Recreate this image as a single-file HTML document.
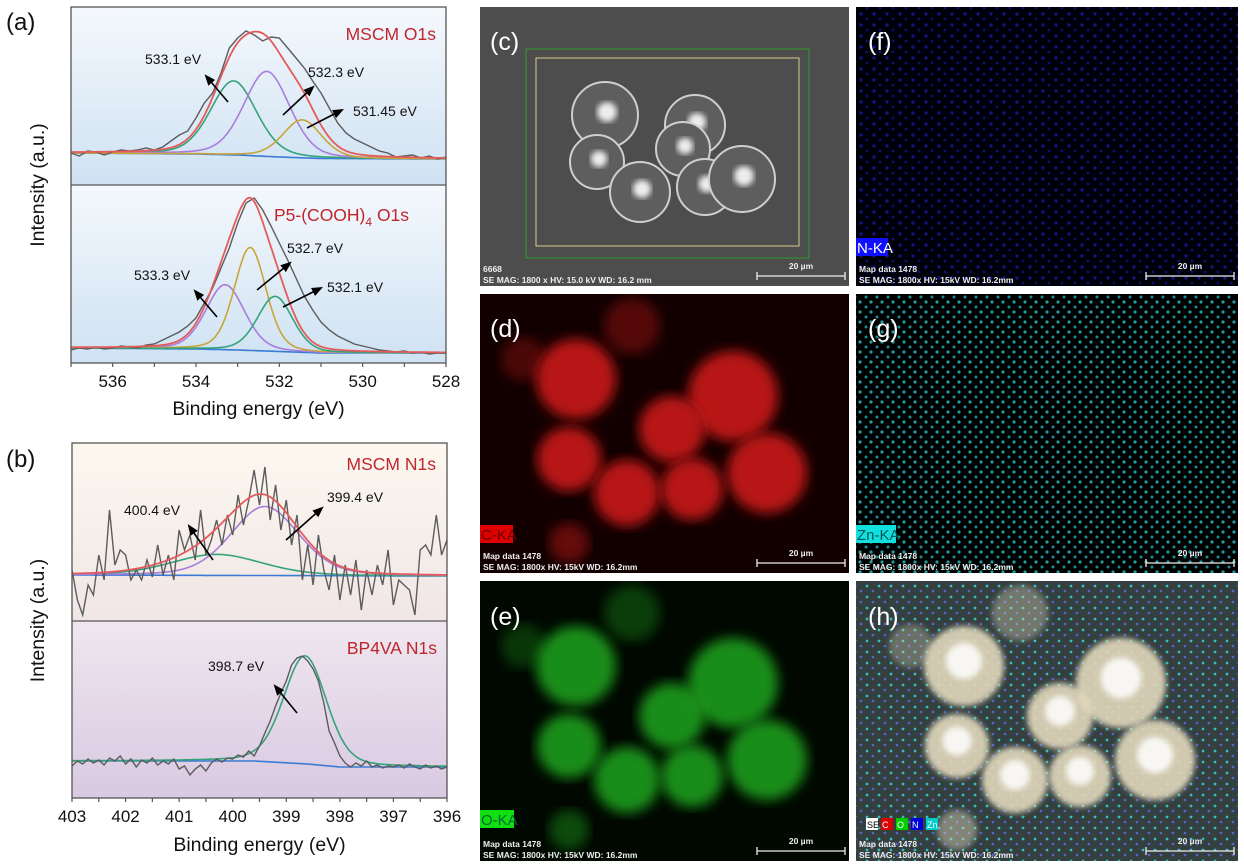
<!DOCTYPE html>
<html><head><meta charset="utf-8"><style>
html,body{margin:0;padding:0;background:#fff;}
svg{display:block;font-family:"Liberation Sans",Arial,sans-serif;}
</style></head><body>
<svg id="fig" width="1244" height="866" viewBox="0 0 1244 866" xmlns="http://www.w3.org/2000/svg">
<defs>
<linearGradient id="bgA" x1="0" y1="0" x2="0" y2="1"><stop offset="0" stop-color="#f4f8fc"/><stop offset="1" stop-color="#cfe2f3"/></linearGradient>
<linearGradient id="bgB1" x1="0" y1="0" x2="0" y2="1"><stop offset="0" stop-color="#fcf8ef"/><stop offset="1" stop-color="#f0e6e6"/></linearGradient>
<linearGradient id="bgB2" x1="0" y1="0" x2="0" y2="1"><stop offset="0" stop-color="#efe7ef"/><stop offset="1" stop-color="#d9c9e2"/></linearGradient>
<marker id="arr" viewBox="0 0 10 10" refX="8" refY="5" markerWidth="7" markerHeight="7" orient="auto"><path d="M0,1 L10,5 L0,9 z" fill="#000"/></marker>
<filter id="blur6"><feGaussianBlur stdDeviation="6"/></filter>
<filter id="blur3"><feGaussianBlur stdDeviation="3"/></filter>
<pattern id="dotsB" width="13" height="11" patternUnits="userSpaceOnUse"><circle cx="3" cy="3" r="1.7" fill="#2a2cff"/><circle cx="9" cy="8" r="1.4" fill="#2224e0"/></pattern>
<pattern id="dotsC" width="11" height="10" patternUnits="userSpaceOnUse"><circle cx="2" cy="2" r="1.6" fill="#2fe0e0"/><circle cx="8" cy="7" r="1.5" fill="#27c8d0"/></pattern>
<pattern id="dotsH" width="12" height="11" patternUnits="userSpaceOnUse"><circle cx="3" cy="3" r="1.4" fill="#3ccfcf"/><circle cx="9" cy="8" r="1.3" fill="#5a6ae8"/></pattern>
</defs>
<g id="charts"></g>
<g id="images"></g>
</svg>
<script>
// ===== data =====
const aStart = 537, aStep = -0.2;
const rawMSCMO = [0,-3,2,1,-2,1,3,2,3,5,3,6,12,18,22,35,50,60,80,105,115,122,118,112,116,115,105,95,85,72,60,45,30,20,14,10,6,2,0,-4,-3,-2,-5,-3,-6,-4];
const rawP5O = [-2,0,-1,1,-1,0,2,1,0,3,4,8,12,16,22,30,45,60,80,100,125,145,150,138,122,105,88,70,52,38,26,18,12,8,4,2,0,-2,-3,-4,-3,-5,-4,-6,-5,-5];
const bgMSCMO = [[537,0],[534,-1],[533,-2],[532,-4],[531,-5.5],[528,-6]];
const bgP5O = [[537,0],[534,-1],[533,-2],[532,-3.5],[531,-5],[528,-5]];
const pkMSCMO_centers = [533.1, 532.3, 531.45];
const pkMSCMO_heights = [74, 85, 38];
const pkMSCMO_fwhm = [1.3, 1.3, 1.1];
const pkP5O_centers = [533.3, 532.7, 532.1];
const pkP5O_heights = [65, 103, 55];
const pkP5O_fwhm = [1.1, 0.9, 1.0];
const bStart = 403, bStep = -0.1;
const rawMSCMN = [5,-25,-40,-10,-20,20,-5,65,10,25,20,-5,5,-5,15,-2,30,0,20,-5,45,25,40,15,65,20,35,55,30,60,40,80,50,75,105,70,108,55,90,45,75,30,60,-5,30,-10,40,5,-15,20,-25,10,-20,15,-35,5,-20,10,-10,25,-30,-5,-10,-15,-40,25,30,20,60,20,35];
const rawBP4VA = [-5,0,-3,2,-2,1,-4,3,0,5,-3,2,-6,1,-2,3,-4,0,-3,2,-8,-5,-14,-8,-4,-10,-2,2,-1,3,2,6,4,10,5,15,28,40,55,68,80,96,103,105,100,92,80,58,30,18,5,-2,-6,-2,-5,0,-6,-4,-7,-5,-6,-4,-7,-3,-6,-8,-4,-7,-5,-8,-6];
const bgMSCMN = [[403,0],[396,-1]];
const bgBP4VA = [[403,0],[399.6,0],[398.6,-3],[398,-6],[396,-6]];
const pkMSCMN_centers = [400.3, 399.4];
const pkMSCMN_heights = [21, 69];
const pkMSCMN_fwhm = [2.0, 1.5];
const pkBP4VA_centers = [398.65];
const pkBP4VA_heights = [108];
const pkBP4VA_fwhm = [0.95];
const ticksA = [536,534,532,530,528];
const ticksB = [403,402,401,400,399,398,397,396];

const NS = "http://www.w3.org/2000/svg";
function mk(tag, attrs, parent){const e=document.createElementNS(NS,tag);for(const k in attrs)e.setAttribute(k,attrs[k]);if(parent)parent.appendChild(e);return e;}
function pv(x,c,h,w){const d=(x-c)/w;const g=Math.exp(-4*Math.LN2*d*d);const l=1/(1+4*d*d);return h*(0.75*g+0.25*l);}
function bgAt(bg,x){
  for(let i=0;i<bg.length-1;i++){const a=bg[i],b=bg[i+1];if(x<=a[0]&&x>=b[0]){const t=(a[0]-x)/(a[0]-b[0]);return a[1]+t*(b[1]-a[1]);}}
  return bg[bg.length-1][1];}

const charts=document.getElementById('charts');

function panel(opt){
  const g=mk('g',{},charts);
  
  
  const xs=v=>opt.x0+(opt.eMax-v)/(opt.eMax-opt.eMin)*(opt.x1-opt.x0);
  const ys=v=>opt.base-v;
  const bgr=mk('rect',{x:opt.x0,y:opt.top,width:opt.x1-opt.x0,height:opt.bot-opt.top,fill:opt.fill},g);
  
  
  const n=opt.raw.length;
  const E=[];for(let i=0;i<n;i++)E.push(opt.start+i*opt.step);
  const F=[];for(let i=0;i<=300;i++)F.push(opt.eMax-(opt.eMax-opt.eMin)*i/300);
  const path=(pts)=>pts.map((p,i)=>(i?'L':'M')+p[0].toFixed(1)+','+p[1].toFixed(1)).join('');
  const bl=mk('path',{d:path(F.map(e=>[xs(e),ys(bgAt(opt.bg,e))])),fill:'none',stroke:'#3b7bd4','stroke-width':1.6},g);
  
  
  opt.centers.forEach((c,k)=>{
    const p=mk('path',{d:path(F.map(e=>[xs(e),ys(bgAt(opt.bg,e)+pv(e,c,opt.heights[k],opt.fwhm[k]))])),fill:'none',stroke:opt.colors[k],'stroke-width':1.6},g);
    
    
  });
  const r=mk('path',{d:path(E.map((e,i)=>[xs(e),ys(opt.raw[i])])),fill:'none',stroke:'#5c5c5c','stroke-width':1.4},g);
  
  
  if(opt.envelope){
    const s=mk('path',{d:path(F.map(e=>{let v=bgAt(opt.bg,e);opt.centers.forEach((c,k)=>v+=pv(e,c,opt.heights[k],opt.fwhm[k]));return [xs(e),ys(v)];})),fill:'none',stroke:'#e45b5b','stroke-width':1.8},g);
    
    
  }
}

panel({name:'mscm-o1s',x0:71,x1:446,eMax:537,eMin:528,top:7,bot:185,base:153,fill:'url(#bgA)',raw:rawMSCMO,start:aStart,step:aStep,bg:bgMSCMO,centers:pkMSCMO_centers,heights:pkMSCMO_heights,fwhm:pkMSCMO_fwhm,colors:['#35a37a','#a97ddb','#c9a43a'],envelope:true});
panel({name:'p5-cooh4-o1s',x0:71,x1:446,eMax:537,eMin:528,top:185,bot:363,base:348,fill:'url(#bgA)',raw:rawP5O,start:aStart,step:aStep,bg:bgP5O,centers:pkP5O_centers,heights:pkP5O_heights,fwhm:pkP5O_fwhm,colors:['#a97ddb','#c9a43a','#35a37a'],envelope:true});
panel({name:'mscm-n1s',x0:72,x1:447,eMax:403,eMin:396,top:443,bot:621,base:575,fill:'url(#bgB1)',raw:rawMSCMN,start:bStart,step:bStep,bg:bgMSCMN,centers:pkMSCMN_centers,heights:pkMSCMN_heights,fwhm:pkMSCMN_fwhm,colors:['#35a37a','#a97ddb'],envelope:true});
panel({name:'bp4va-n1s',x0:72,x1:447,eMax:403,eMin:396,top:621,bot:798,base:761,fill:'url(#bgB2)',raw:rawBP4VA,start:bStart,step:bStep,bg:bgBP4VA,centers:pkBP4VA_centers,heights:pkBP4VA_heights,fwhm:pkBP4VA_fwhm,colors:['#35a37a'],envelope:false});

function axes(name,x0,x1,top,mid,bot,eMax,eMin,ticks,minorStep,label,ly){
  const g=mk('g',{},charts);
  
  
  mk('rect',{x:x0,y:top,width:x1-x0,height:bot-top,fill:'none',stroke:'#555','stroke-width':1.3},g);
  mk('line',{x1:x0,x2:x1,y1:mid,y2:mid,stroke:'#555','stroke-width':1.3},g);
  const xs=v=>x0+(eMax-v)/(eMax-eMin)*(x1-x0);
  for(let e=eMax;e>=eMin-1e-6;e-=minorStep){mk('line',{x1:xs(e),x2:xs(e),y1:bot,y2:bot+4,stroke:'#555','stroke-width':1.2},g);}
  ticks.forEach(t=>{
    const tx=mk('text',{x:xs(t),y:bot+24,'font-size':17,'text-anchor':'middle',fill:'#111'},g);
    tx.textContent=t;
    
    
  });
  const xt=mk('text',{x:(x0+x1)/2,y:ly,'font-size':19.5,'text-anchor':'middle',fill:'#111'},g);
  xt.textContent='Binding energy (eV)';
  
  
  const yt=mk('text',{x:0,y:0,'font-size':19.5,'text-anchor':'middle',fill:'#111',transform:'translate(44,'+((top+bot)/2)+') rotate(-90)'},g);
  yt.textContent='Intensity (a.u.)';
  
  
}
axes('axes-a',71,446,7,185,363,537,528,ticksA,1,'',415);
axes('axes-b',72,447,443,621,798,403,396,ticksB,0.5,'',851);

function txt(s,x,y,size,fill,name,anchor){const t=mk('text',{x:x,y:y,'font-size':size,fill:fill,'text-anchor':anchor||'start'},charts);t.textContent=s;return t;}
function arrow(x1,y1,x2,y2,name){const l=mk('line',{x1:x1,y1:y1,x2:x2,y2:y2,stroke:'#000','stroke-width':1.6,'marker-end':'url(#arr)'},charts);}
txt('(a)',6,30,24,'#111','panel-label-a');
txt('(b)',6,467,24,'#111','panel-label-b');
txt('MSCM O1s',436,40,17.5,'#c0262c','title-mscm-o1s','end');
const t5=txt('P5-(COOH)',274,221,17.5,'#c0262c','title-p5-o1s');
const ts=mk('tspan',{'font-size':12,dy:5},t5);ts.textContent='4';
const ts2=mk('tspan',{dy:-5},t5);ts2.textContent=' O1s';
txt('MSCM N1s',436,470,17.5,'#c0262c','title-mscm-n1s','end');
txt('BP4VA N1s',437,654,17.5,'#c0262c','title-bp4va-n1s','end');
txt('533.1 eV',145,64,14,'#111','label-533-1');
arrow(228,102,206,76,'arrow-533-1');
txt('532.3 eV',308,77,14,'#111','label-532-3');
arrow(283,115,313,87,'arrow-532-3');
txt('531.45 eV',353,116,14,'#111','label-531-45');
arrow(307,128,342,110,'arrow-531-45');
txt('533.3 eV',134,280,14,'#111','label-533-3');
arrow(217,317,195,291,'arrow-533-3');
txt('532.7 eV',287,253,14,'#111','label-532-7');
arrow(257,290,290,263,'arrow-532-7');
txt('532.1 eV',327,292,14,'#111','label-532-1');
arrow(283,307,321,288,'arrow-532-1');
txt('400.4 eV',124,515,14,'#111','label-400-4');
arrow(213,560,189,526,'arrow-400-4');
txt('399.4 eV',327,502,14,'#111','label-399-4');
arrow(286,540,322,508,'arrow-399-4');
txt('398.7 eV',208,671,14,'#111','label-398-7');
arrow(297,713,275,686,'arrow-398-7');

// ===== image panels =====
const imgs=document.getElementById('images');
function imgPanel(name,x,y,w,h,bg){const g=mk('g',{},imgs);
  const cp='cp-'+name;const c=mk('clipPath',{id:cp},imgs);mk('rect',{x:x,y:y,width:w,height:h},c);
  const inner=mk('g',{'clip-path':'url(#'+cp+')'},g);mk('rect',{x:x,y:y,width:w,height:h,fill:bg},inner);return {g:g,inner:inner};}
function footer(p,x,y,w,h,line1,line2){
  const t1=mk('text',{x:x+3,y:y+h-14,'font-size':8.5,'font-weight':'bold',fill:'#eee'},p.g);t1.textContent=line1;
  
  const t2=mk('text',{x:x+3,y:y+h-3,'font-size':8.5,'font-weight':'bold',fill:'#eee'},p.g);t2.textContent=line2;
  
  const t3=mk('text',{x:x+w-48,y:y+h-17,'font-size':8.5,'font-weight':'bold',fill:'#eee','text-anchor':'middle'},p.g);t3.textContent='20 µm';
  
  const sb=mk('path',{d:`M${x+w-92},${y+h-10}h88M${x+w-92},${y+h-14}v8M${x+w-4},${y+h-14}v8`,stroke:'#eee','stroke-width':1.3,fill:'none'},p.g);
  }
function plabel(p,s,x,y){const t=mk('text',{x:x,y:y,'font-size':25,fill:'#fff'},p.g);t.textContent=s;}
function tag(p,s,x,y,w,bg,fg){mk('rect',{x:x,y:y,width:w,height:18,fill:bg},p.g);const t=mk('text',{x:x+1,y:y+15,'font-size':15,fill:fg},p.g);t.textContent=s;}
const sph=[[96,85,40,1],[253,102,45,1],[192,135,33,1],[89,165,32,1],[147,199,33,1],[212,195,31,1],[287,179,40,1],[152,32,28,0.4],[43,65,22,0.35],[89,249,20,0.5]];
const X1=480,X2=856,W1=369,W2=382;
let p=imgPanel('sem-image-c',X1,7,W1,279,'#4d4d4d');
const semS=[[125,108,33],[117,155,27],[160,185,30],[215,118,30],[203,142,27],[225,180,28],[262,172,33]];
semS.forEach(s=>{mk('circle',{cx:X1+s[0],cy:7+s[1],r:s[2],fill:'#5e5e5e',stroke:'#cfcfcf','stroke-width':2},p.inner);mk('circle',{cx:X1+s[0]+2,cy:7+s[1]-3,r:s[2]*0.3,fill:'#eee',filter:'url(#blur3)'},p.inner);});
mk('rect',{x:X1+46,y:7+42,width:283,height:209,fill:'none',stroke:'#2f9a2f','stroke-width':1},p.g);
mk('rect',{x:X1+56,y:7+51,width:263,height:188,fill:'none',stroke:'#d8cf8c','stroke-width':1},p.g);
plabel(p,'(c)',X1+10,7+43);footer(p,X1,7,W1,279,'6668','SE  MAG: 1800 x  HV: 15.0 kV   WD: 16.2 mm');
p=imgPanel('eds-n-map-f',X2,7,W2,279,'#00000a');
mk('rect',{x:X2,y:7,width:W2,height:279,fill:'url(#dotsB)',opacity:0.45},p.inner);
plabel(p,'(f)',X2+12,7+43);tag(p,'N-KA',X2,7+231,32,'#1010ff','#fff');footer(p,X2,7,W2,279,'Map data 1478','SE  MAG: 1800x  HV: 15kV  WD: 16.2mm');
p=imgPanel('eds-c-map-d',X1,294,W1,279,'#120000');
sph.forEach(s=>mk('circle',{cx:X1+s[0],cy:294+s[1],r:s[2],fill:'#b81212',opacity:s[3],filter:'url(#blur6)'},p.inner));
plabel(p,'(d)',X1+10,294+43);tag(p,'C-KA',X1,294+231,33,'#e00000','#600');footer(p,X1,294,W1,279,'Map data 1478','SE  MAG: 1800x  HV: 15kV  WD: 16.2mm');
p=imgPanel('eds-zn-map-g',X2,294,W2,279,'#000');
mk('rect',{x:X2,y:294,width:W2,height:279,fill:'url(#dotsC)',opacity:0.7},p.inner);
plabel(p,'(g)',X2+12,294+43);tag(p,'Zn-KA',X2,294+231,40,'#10e0e0','#055');footer(p,X2,294,W2,279,'Map data 1478','SE  MAG: 1800x  HV: 15kV  WD: 16.2mm');
p=imgPanel('eds-o-map-e',X1,581,W1,280,'#000800');
sph.forEach(s=>mk('circle',{cx:X1+s[0],cy:581+s[1],r:s[2],fill:'#1c9c1c',opacity:s[3]*0.9,filter:'url(#blur6)'},p.inner));
plabel(p,'(e)',X1+10,581+44);tag(p,'O-KA',X1,581+229,34,'#10e010','#063');footer(p,X1,581,W1,280,'Map data 1478','SE  MAG: 1800x  HV: 15kV  WD: 16.2mm');
p=imgPanel('eds-overlay-h',X2,581,W2,280,'#34403f');
mk('rect',{x:X2,y:581,width:W2,height:280,fill:'url(#dotsH)',opacity:0.85},p.inner);
sph.forEach(s=>mk('circle',{cx:X2+s[0]+12,cy:581+s[1],r:s[2],fill:'#e2d8bc',opacity:s[3]*0.9,filter:'url(#blur3)'},p.inner));
sph.slice(0,7).forEach(s=>mk('circle',{cx:X2+s[0]+12,cy:581+s[1]-5,r:s[2]*0.45,fill:'#fff',opacity:0.85,filter:'url(#blur3)'},p.inner));
plabel(p,'(h)',X2+12,581+44);
const lg=[['SE','#fff','#000'],['C','#d00','#fff'],['O','#0c0','#fff'],['N','#00d','#fff'],['Zn','#0cc','#fff']];
lg.forEach((l,i)=>{mk('rect',{x:X2+10+i*15,y:581+237,width:12,height:12,fill:l[1]},p.g);const t=mk('text',{x:X2+11+i*15,y:581+247,'font-size':9,fill:l[2]},p.g);t.textContent=l[0];});
footer(p,X2,581,W2,280,'Map data 1478','SE  MAG: 1800x  HV: 15kV  WD: 16.2mm');
</script>
</body></html>
